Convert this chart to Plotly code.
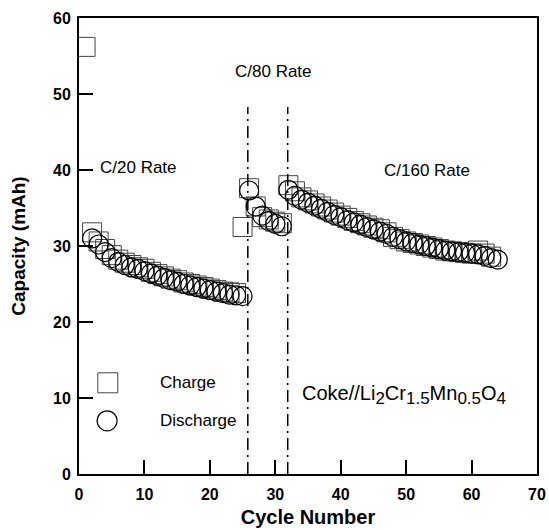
import plotly.graph_objects as go

# ---------------- data ----------------
charge_cycles = list(range(1, 64))
charge_capacity = [
    # C/20 (cycles 1-24)
    56.2, 31.8, 30.6, 29.6, 28.8, 28.2, 27.8, 27.5, 27.2, 27.0, 26.6, 26.3,
    26.0, 25.7, 25.5, 25.2, 25.0, 24.8, 24.6, 24.4, 24.2, 24.0, 23.9, 23.8,
    # C/80 (cycles 25-31)
    32.5, 37.6, 35.2, 33.8, 33.5, 33.2, 33.0,
    # C/160 (cycles 32-63)
    38.0, 37.2, 36.4, 36.0, 35.6, 35.2, 34.8, 34.4, 34.0, 33.7, 33.3, 33.0,
    32.7, 32.4, 32.2, 31.8, 31.2, 30.9, 30.6, 30.4, 30.2, 30.0, 29.8, 29.6,
    29.4, 29.3, 29.2, 29.1, 29.0, 29.4, 29.0, 28.6,
]

discharge_cycles = list(range(2, 65))
discharge_capacity = [
    # C/20 (cycles 2-25)
    31.0, 30.2, 29.2, 28.4, 27.9, 27.5, 27.2, 27.0, 26.7, 26.4, 26.1, 25.8,
    25.5, 25.3, 25.0, 24.8, 24.6, 24.4, 24.2, 24.0, 23.8, 23.6, 23.5, 23.4,
    # C/80 (cycles 26-31)
    37.3, 35.2, 34.0, 33.3, 32.9, 32.6,
    # C/160 (cycles 32-64)
    37.4, 36.6, 36.1, 35.7, 35.3, 34.9, 34.5, 34.1, 33.8, 33.4, 33.1, 32.8,
    32.5, 32.2, 31.9, 31.6, 31.2, 30.9, 30.6, 30.4, 30.2, 30.0, 29.8, 29.6,
    29.4, 29.3, 29.2, 29.1, 29.0, 28.9, 28.7, 28.4, 28.2,
]

rate_change_cycles = [25.8, 31.9]
rate_labels = ["C/20 Rate", "C/80 Rate", "C/160 Rate"]
x_ticks = [0, 10, 20, 30, 40, 50, 60, 70]
y_ticks = [0, 10, 20, 30, 40, 50, 60]

# ---------------- figure ----------------
FONT = "Arial, Liberation Sans, sans-serif"
fig = go.Figure()

fig.add_trace(go.Scatter(
    x=charge_cycles, y=charge_capacity, mode="markers", name="Charge",
    marker=dict(symbol="square-open", size=19, color="#444444",
                line=dict(width=1, color="#444444")),
))
fig.add_trace(go.Scatter(
    x=discharge_cycles, y=discharge_capacity, mode="markers", name="Discharge",
    marker=dict(symbol="circle-open", size=19, color="black",
                line=dict(width=1.2, color="black")),
))

shapes = []
for xc in rate_change_cycles:
    shapes.append(dict(type="line", xref="x", yref="y", x0=xc, x1=xc, y0=0, y1=48.3,
                       line=dict(color="black", width=1.5, dash="12px,5px,2px,5px")))

# legend keys
shapes.append(dict(type="rect", xref="x", yref="y", xsizemode="pixel", ysizemode="pixel",
                   xanchor=4.4, yanchor=12.0, x0=-10, x1=10, y0=-10, y1=10,
                   line=dict(color="#444444", width=1)))
shapes.append(dict(type="circle", xref="x", yref="y", xsizemode="pixel", ysizemode="pixel",
                   xanchor=4.3, yanchor=7.0, x0=-10, x1=10, y0=-10, y1=10,
                   line=dict(color="black", width=1.2)))

SUB = "<sub><span style='font-size:17px'>{}</span></sub>"
formula = ("Coke//Li" + SUB.format("2") + "Cr" + SUB.format("1.5") + "Mn"
           + SUB.format("0.5") + "O" + SUB.format("4"))

ann_font = dict(family=FONT, size=17, color="black")
annotations = [
    dict(x=2.9, y=40.3, text=rate_labels[0], xanchor="left", yanchor="middle"),
    dict(x=29.7, y=52.9, text=rate_labels[1], xanchor="center", yanchor="middle"),
    dict(x=46.3, y=40.0, text=rate_labels[2], xanchor="left", yanchor="middle"),
    dict(x=33.8, y=10.4, text=formula, xanchor="left", yanchor="middle",
         font=dict(family=FONT, size=20, color="black")),
    dict(x=12.1, y=12.0, text="Charge", xanchor="left", yanchor="middle"),
    dict(x=12.1, y=7.1, text="Discharge", xanchor="left", yanchor="middle"),
]
for a in annotations:
    a.setdefault("font", ann_font)
    a.update(xref="x", yref="y", showarrow=False)

fig.update_layout(
    width=549, height=530,
    margin=dict(l=79, r=12, t=18, b=56),
    plot_bgcolor="white", paper_bgcolor="white",
    showlegend=False,
    font=dict(family=FONT, color="black"),
    shapes=shapes, annotations=annotations,
)

axis_common = dict(
    ticks="inside", ticklen=14, tickwidth=1.5, tickcolor="black",
    showline=True, linewidth=2, linecolor="black", mirror=True,
    showgrid=False, zeroline=False, automargin=False,
    tickfont=dict(family=FONT, size=16, color="black", weight="bold"),
)
fig.update_xaxes(range=[0, 70], tickvals=x_ticks, ticklabelstandoff=5, **axis_common,
                 title=dict(text="Cycle Number", standoff=8,
                            font=dict(family=FONT, size=20, color="black", weight="bold")))
fig.update_yaxes(range=[0, 60], tickvals=y_ticks, ticklabelstandoff=3, **axis_common,
                 title=dict(text="Capacity (mAh)", standoff=22,
                            font=dict(family=FONT, size=19, color="black", weight="bold")))

fig.write_html("out.html")
